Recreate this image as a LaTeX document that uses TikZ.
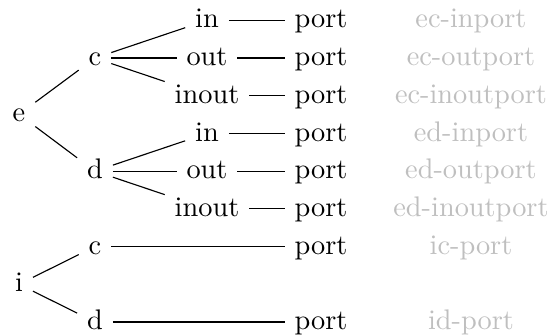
\documentclass[tikz,border=0pt]{standalone}
\begin{document}
\begin{tikzpicture}[x=0.353pt,y=-0.353pt,
  every node/.style={text height=1.5ex,text depth=.25ex,anchor=base},
  lbl/.style={text=black!25},
  link/.style={draw=black,line width=0.4pt}]
\useasboundingbox (0,0) rectangle (552,336);

% column positions
\def\ca{19}\def\cb{95}\def\cc{207}\def\cd{321}\def\ce{471}

% roots
\node (e) at (\ca,122) {e};
\node (i) at (\ca,291.9) {i};

% second level
\node (ec) at (\cb,65.7) {c};
\node (ed) at (\cb,178.8) {d};
\node (ic) at (\cb,254.2) {c};
\node (id) at (\cb,329.6) {d};

% directions
\node (eci) at (\cc,28)    {in};
\node (eco) at (\cc,65.7)  {out};
\node (ecx) at (\cc,103.4) {inout};
\node (edi) at (\cc,141.1) {in};
\node (edo) at (\cc,178.8) {out};
\node (edx) at (\cc,216.5) {inout};

% ports
\node (p1) at (\cd,28)    {port};
\node (p2) at (\cd,65.7)  {port};
\node (p3) at (\cd,103.4) {port};
\node (p4) at (\cd,141.1) {port};
\node (p5) at (\cd,178.8) {port};
\node (p6) at (\cd,216.5) {port};
\node (p7) at (\cd,254.2) {port};
\node (p8) at (\cd,329.6) {port};

% port names
\node[lbl] (l1) at (\ce,28)    {ec-inport};
\node[lbl] (l2) at (\ce,65.7)  {ec-outport};
\node[lbl] (l3) at (\ce,103.4) {ec-inoutport};
\node[lbl] (l4) at (\ce,141.1) {ed-inport};
\node[lbl] (l5) at (\ce,178.8) {ed-outport};
\node[lbl] (l6) at (\ce,216.5) {ed-inoutport};
\node[lbl] (l7) at (\ce,254.2) {ic-port};
\node[lbl] (l8) at (\ce,329.6) {id-port};

% tree edges
\draw[link] (e) -- (ec);
\draw[link] (e) -- (ed);
\draw[link] (ec) -- (eci);
\draw[link] (ec) -- (eco);
\draw[link] (ec) -- (ecx);
\draw[link] (ed) -- (edi);
\draw[link] (ed) -- (edo);
\draw[link] (ed) -- (edx);
\draw[link] (eci) -- (p1);
\draw[link] (eco) -- (p2);
\draw[link] (ecx) -- (p3);
\draw[link] (edi) -- (p4);
\draw[link] (edo) -- (p5);
\draw[link] (edx) -- (p6);
\draw[link] (i) -- (ic);
\draw[link] (i) -- (id);
\draw[link] (ic) -- (p7);
\draw[link] (id) -- (p8);
\end{tikzpicture}
\end{document}
